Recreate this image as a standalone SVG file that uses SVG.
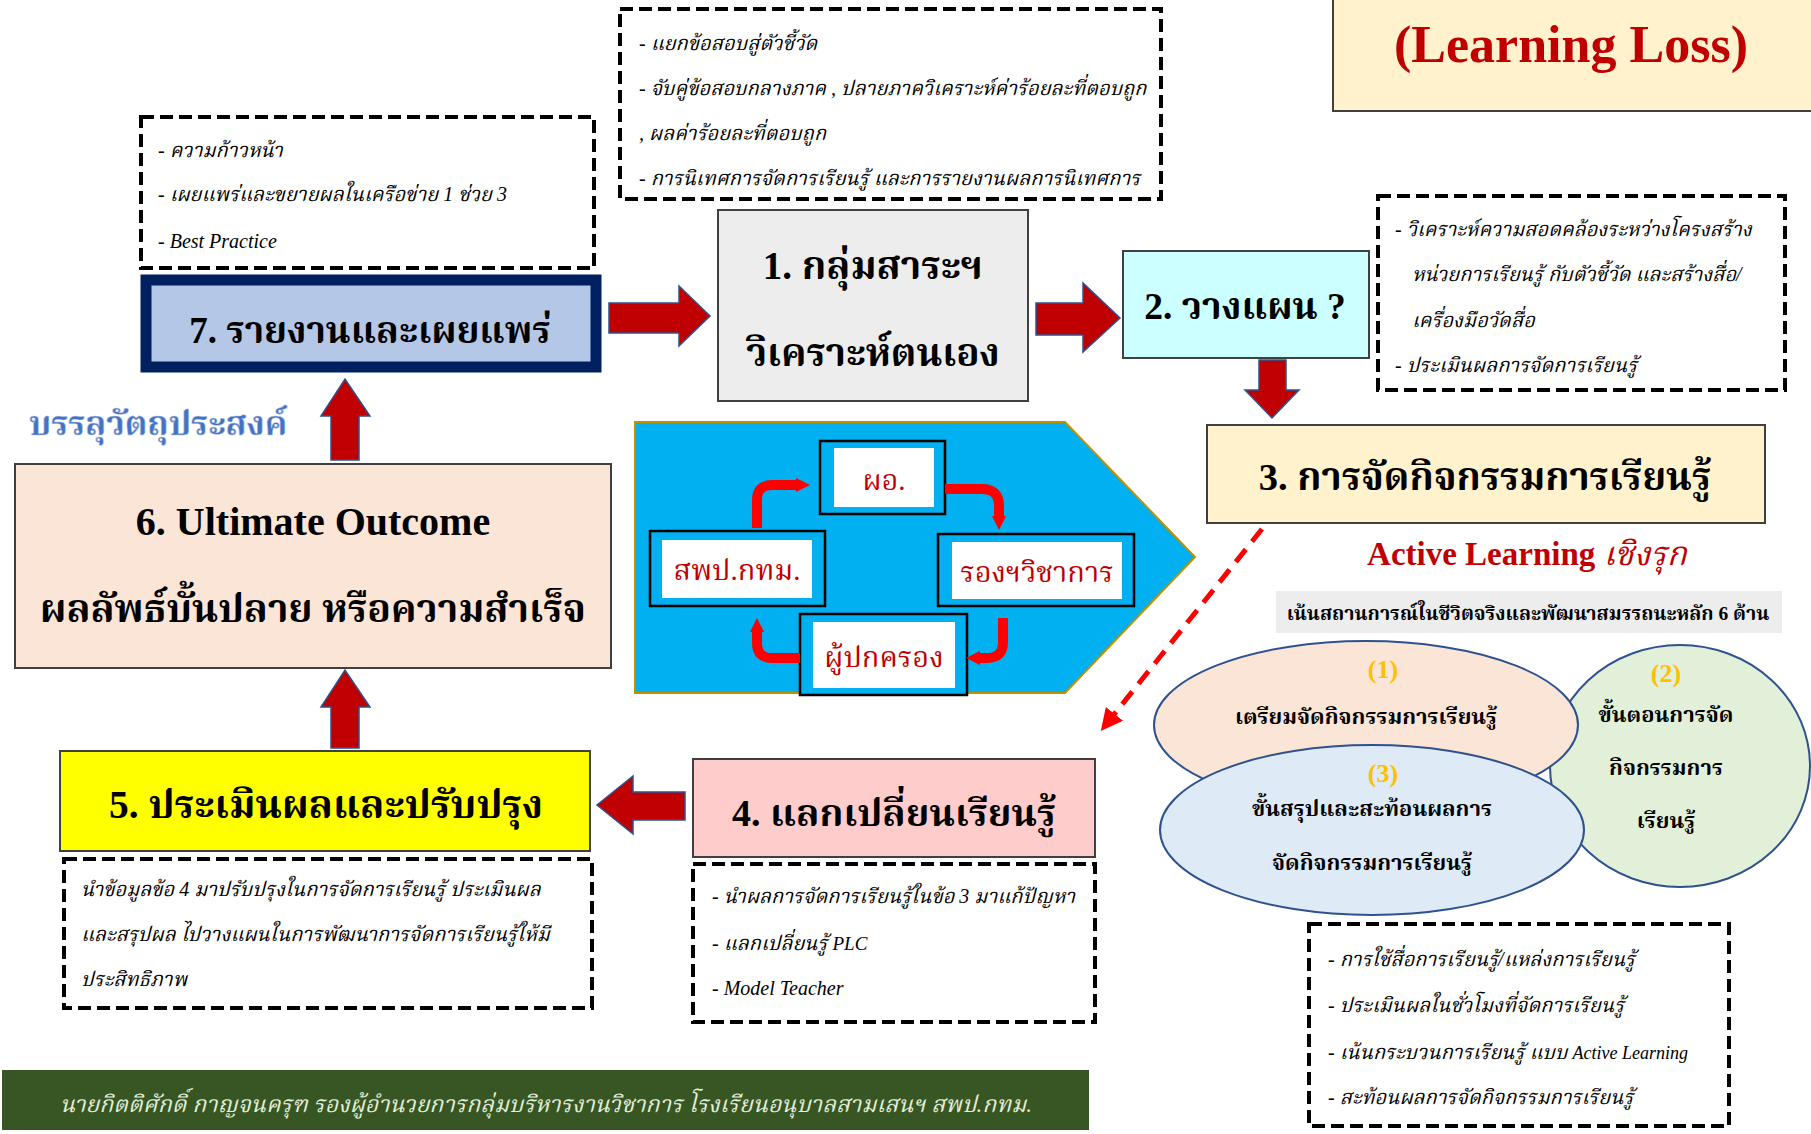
<svg xmlns="http://www.w3.org/2000/svg" width="1811" height="1134" viewBox="0 0 1811 1134">
<style>
.serif{font-family:"Liberation Serif","Noto Serif Thai","Noto Sans Thai",serif}
.head{font-family:"Liberation Serif","Noto Serif Thai","Noto Sans Thai",serif;font-weight:bold;fill:#000;text-anchor:middle}
.note{font-family:"Liberation Serif","Noto Serif Thai","Noto Sans Thai",serif;font-style:italic;font-size:20px;fill:#000}
.dash{fill:#fff;stroke:#000;stroke-width:4;stroke-dasharray:13 6}
.box{stroke:#404040;stroke-width:2}
.blk{fill:#C00000;stroke:#2F528F;stroke-width:1.5}
.small{fill:#00B0F0;stroke:#000;stroke-width:2.5}
.inner{fill:#fff}
.red{font-family:"Liberation Serif","Noto Serif Thai","Noto Sans Thai",serif;font-size:29px;fill:#C00000;text-anchor:middle}
.curve{fill:none;stroke:#FF0000;stroke-width:10;marker-end:url(#rh)}
.ell{stroke:#2F528F;stroke-width:2}
.et{font-family:"Liberation Serif","Noto Serif Thai","Noto Sans Thai",serif;font-weight:bold;font-size:22px;fill:#000;text-anchor:middle}
.num{font-family:"Liberation Serif",serif;font-weight:bold;font-size:26px;fill:#FFC000;text-anchor:middle}
</style>
<defs>
<marker id="rh" markerWidth="14" markerHeight="14" refX="4" refY="7" orient="auto" markerUnits="userSpaceOnUse" viewBox="0 0 14 14">
<path d="M0,0 L14,7 L0,14 Z" fill="#FF0000"/>
</marker>
<marker id="dh" markerWidth="22" markerHeight="22" refX="4" refY="11" orient="auto" markerUnits="userSpaceOnUse" viewBox="0 0 22 22">
<path d="M0,0 L22,11 L0,22 Z" fill="#FF0000"/>
</marker>
</defs>
<rect width="1811" height="1134" fill="#fff"/>

<g id="title">
<rect x="1333" y="-4" width="482" height="115" fill="#FFF2CC" stroke="#404040" stroke-width="2"/>
<text x="1571" y="62" class="serif" font-size="52" font-weight="bold" fill="#C00000" text-anchor="middle">(Learning Loss)</text>
</g>

<g id="note1">
<rect x="620" y="9" width="541" height="190" class="dash"/>
<text class="note" x="639" y="50" font-size="19.5">- แยกข้อสอบสู่ตัวชี้วัด</text>
<text class="note" x="639" y="95" font-size="19.5">- จับคู่ข้อสอบกลางภาค , ปลายภาควิเคราะห์ค่าร้อยละที่ตอบถูก</text>
<text class="note" x="639" y="140" font-size="19.5">, ผลค่าร้อยละที่ตอบถูก</text>
<text class="note" x="639" y="185" font-size="19.5">- การนิเทศการจัดการเรียนรู้ และการรายงานผลการนิเทศการ</text>
</g>

<g id="note7">
<rect x="141" y="117" width="453" height="151" class="dash"/>
<text class="note" x="158" y="157" font-size="17.5">- ความก้าวหน้า</text>
<text class="note" x="158" y="201" font-size="17.5">- เผยแพร่และขยายผลในเครือข่าย 1 ช่วย 3</text>
<text class="note" x="158" y="248" font-size="18">- Best Practice</text>
</g>

<g id="box7">
<rect x="146" y="280" width="450" height="87" fill="#B4C7E7" stroke="#002060" stroke-width="11"/>
<text class="head" x="370" y="343" font-size="37">7. รายงานและเผยแพร่</text>
</g>

<g id="box1">
<rect x="718" y="210" width="310" height="191" fill="#EDEDED" class="box"/>
<text class="head" x="873" y="279" font-size="39">1. กลุ่มสาระฯ</text>
<text class="head" x="873" y="366" font-size="38.5">วิเคราะห์ตนเอง</text>
</g>

<g id="box2">
<rect x="1123" y="251" width="246" height="107" fill="#CCFFFF" class="box"/>
<text class="head" x="1245" y="319" font-size="37.5">2. วางแผน ?</text>
</g>

<g id="note2">
<rect x="1378" y="196" width="407" height="194" class="dash"/>
<text class="note" x="1395" y="236" font-size="20">- วิเคราะห์ความสอดคล้องระหว่างโครงสร้าง</text>
<text class="note" x="1412" y="281" font-size="20">หน่วยการเรียนรู้ กับตัวชี้วัด และสร้างสื่อ/</text>
<text class="note" x="1412" y="327" font-size="20">เครื่องมือวัดสื่อ</text>
<text class="note" x="1395" y="372" font-size="20">-  ประเมินผลการจัดการเรียนรู้</text>
</g>

<g id="box3">
<rect x="1207" y="425" width="558" height="98" fill="#FFF2CC" class="box"/>
<text class="head" x="1485" y="490" font-size="38.5">3. การจัดกิจกรรมการเรียนรู้</text>
</g>

<g id="active">
<text x="1527" y="565" class="serif" font-size="33" font-weight="bold" fill="#C00000" text-anchor="middle">Active Learning <tspan font-style="italic" font-weight="normal">เชิงรุก</tspan></text>
<rect x="1276" y="591" width="506" height="42" fill="#EDEDED"/>
<text x="1528" y="620" class="serif" font-size="19.5" font-weight="bold" fill="#000" text-anchor="middle">เน้นสถานการณ์ในชีวิตจริงและพัฒนาสมรรถนะหลัก 6 ด้าน</text>
</g>

<g id="ellipse2">
<ellipse cx="1680" cy="766" rx="130" ry="121" fill="#E2F0D9" class="ell"/>
<text class="num" x="1666" y="682">(2)</text>
<text class="et" x="1666" y="722">ขั้นตอนการจัด</text>
<text class="et" x="1666" y="775">กิจกรรมการ</text>
<text class="et" x="1666" y="828">เรียนรู้</text>
</g>
<g id="ellipse1">
<ellipse cx="1366" cy="725" rx="212" ry="84" fill="#FBE5D6" class="ell"/>
<text class="num" x="1383" y="678">(1)</text>
<text class="et" x="1366" y="724">เตรียมจัดกิจกรรมการเรียนรู้</text>
</g>
<g id="ellipse3">
<ellipse cx="1372" cy="830" rx="212" ry="85" fill="#DEEBF7" class="ell"/>
<text class="num" x="1383" y="782">(3)</text>
<text class="et" x="1372" y="816">ขั้นสรุปและสะท้อนผลการ</text>
<text class="et" x="1372" y="870">จัดกิจกรรมการเรียนรู้</text>
</g>

<g id="note3">
<rect x="1309" y="924" width="420" height="202" class="dash"/>
<text class="note" x="1328" y="966" font-size="19.5">- การใช้สื่อการเรียนรู้/แหล่งการเรียนรู้</text>
<text class="note" x="1328" y="1012" font-size="19.5">-  ประเมินผลในชั่วโมงที่จัดการเรียนรู้</text>
<text class="note" x="1328" y="1059" font-size="19.5">- เน้นกระบวนการเรียนรู้ แบบ <tspan font-size="18">Active Learning</tspan></text>
<text class="note" x="1328" y="1104" font-size="19.5">- สะท้อนผลการจัดกิจกรรมการเรียนรู้</text>
</g>

<g id="cycle">
<path d="M635,422 L1065,422 L1195,557 L1065,693 L635,693 Z" fill="#00B0F0" stroke="#BF9000" stroke-width="2"/>
<g id="n-director">
<rect x="820" y="441" width="125" height="73" class="small"/>
<rect x="834" y="448" width="100" height="59" class="inner"/>
<text class="red" x="884" y="490" font-size="33">ผอ.</text>
</g>
<g id="n-obec">
<rect x="650" y="531" width="175" height="75" class="small"/>
<rect x="662" y="540" width="150" height="58" class="inner"/>
<text class="red" x="737" y="580">สพป.กทม.</text>
</g>
<g id="n-deputy">
<rect x="938" y="534" width="196" height="72" class="small"/>
<rect x="952" y="542" width="170" height="57" class="inner"/>
<text class="red" x="1037" y="582">รองฯวิชาการ</text>
</g>
<g id="n-parent">
<rect x="800" y="614" width="167" height="81" class="small"/>
<rect x="813" y="622" width="142" height="66" class="inner"/>
<text class="red" x="884" y="667">ผู้ปกครอง</text>
</g>
</g>

<g id="box4">
<rect x="693" y="759" width="402" height="98" fill="#FFCCCC" class="box"/>
<text class="head" x="894" y="826" font-size="38">4. แลกเปลี่ยนเรียนรู้</text>
</g>
<g id="note4">
<rect x="693" y="864" width="402" height="158" class="dash"/>
<text class="note" x="712" y="903" font-size="17.7">- นำผลการจัดการเรียนรู้ในข้อ 3 มาแก้ปัญหา</text>
<text class="note" x="712" y="950" font-size="18">-  แลกเปลี่ยนรู้ <tspan font-size="19">PLC</tspan></text>
<text class="note" x="712" y="995" font-size="19">-  Model Teacher</text>
</g>

<g id="box5">
<rect x="60" y="751" width="530" height="100" fill="#FFFF00" class="box"/>
<text class="head" x="326" y="818" font-size="39.5">5. ประเมินผลและปรับปรุง</text>
</g>
<g id="note5">
<rect x="64" y="859" width="528" height="149" class="dash"/>
<text class="note" x="81" y="896" font-size="19.2">นำข้อมูลข้อ 4 มาปรับปรุงในการจัดการเรียนรู้ ประเมินผล</text>
<text class="note" x="81" y="941" font-size="19.2">และสรุปผล ไปวางแผนในการพัฒนาการจัดการเรียนรู้ให้มี</text>
<text class="note" x="81" y="986" font-size="19.2">ประสิทธิภาพ</text>
</g>

<g id="box6">
<rect x="15" y="464" width="596" height="204" fill="#FBE5D6" class="box"/>
<text class="head" x="313" y="535" font-size="40">6. Ultimate Outcome</text>
<text class="head" x="313" y="622" font-size="39">ผลลัพธ์บั้นปลาย หรือความสำเร็จ</text>
</g>

<g id="achieve">
<text x="29" y="435" class="serif" font-size="34" font-weight="bold" fill="#4472C4" stroke="#B4C7E7" stroke-width="0.5">บรรลุวัตถุประสงค์</text>
</g>

<g id="footer">
<rect x="2" y="1070" width="1087" height="60" fill="#375623"/>
<text x="60" y="1112" class="serif" font-size="23" font-style="italic" fill="#E2EFDA">นายกิตติศักดิ์ กาญจนครุฑ รองผู้อำนวยการกลุ่มบริหารงานวิชาการ โรงเรียนอนุบาลสามเสนฯ สพป.กทม.</text>
</g>

<g id="connectors">
<path class="blk" d="M609,303 L679,303 L679,286 L710,316 L679,346 L679,333 L609,333 Z"/>
<path class="blk" d="M1036,303 L1083,303 L1083,283 L1120,318 L1083,352 L1083,335 L1036,335 Z"/>
<path class="blk" d="M1259,360 L1286,360 L1286,390 L1299,390 L1272,418 L1245,390 L1259,390 Z"/>
<path class="blk" d="M685,792 L633,792 L633,776 L597,805 L633,834 L633,820 L685,820 Z"/>
<path class="blk" d="M331,748 L331,707 L321,707 L345,670 L370,707 L359,707 L359,748 Z"/>
<path class="blk" d="M331,460 L331,416 L321,416 L345,379 L370,416 L359,416 L359,460 Z"/>
<path class="curve" d="M757,528 L757,500 Q757,485 772,485 L800,485"/>
<path class="curve" d="M945,489 L982,489 Q999,489 999,506 L999,520"/>
<path class="curve" d="M1003,618 L1003,642 Q1003,658 987,658 L976,658"/>
<path class="curve" d="M800,658 L772,658 Q757,658 757,643 L757,628"/>
<path d="M1262,529 L1112,717" fill="none" stroke="#FF0000" stroke-width="5" stroke-dasharray="16 10" marker-end="url(#dh)"/>
</g>
</svg>
